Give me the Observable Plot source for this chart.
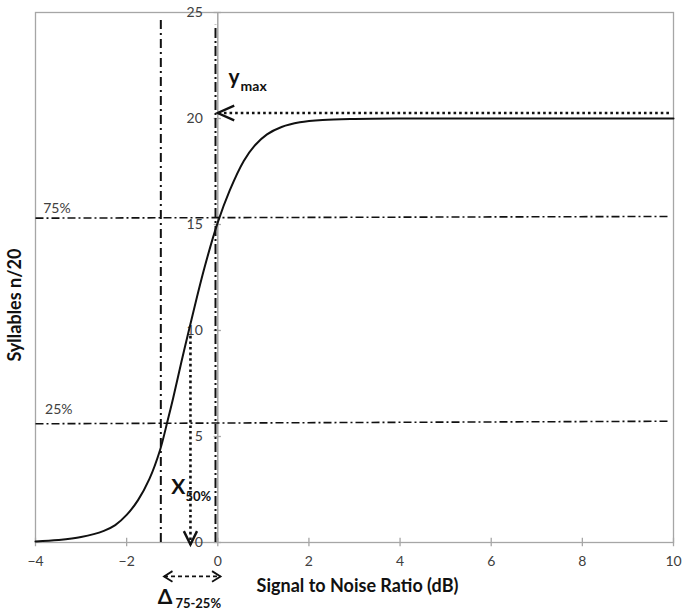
<!DOCTYPE html>
<html>
<head>
<meta charset="utf-8">
<script src="https://cdn.jsdelivr.net/npm/d3@7"></script>
<script src="https://cdn.jsdelivr.net/npm/@observablehq/plot@0.6"></script>
<style>
  html, body { margin: 0; padding: 0; background: #fff; }
  #chart svg { display: block; }
</style>
</head>
<body>
<div id="chart"></div>
<script>
// ---- data ----
const curveX = [-4, -3.5, -3, -2.5, -2.25, -2, -1.75, -1.5, -1.27, -1.1, -0.98, -0.8, -0.64, -0.3, 0, 0.26, 0.57, 0.8, 1.08, 1.4, 1.8, 2.3, 3, 4, 6, 8, 10];
const curveY = [0.05, 0.12, 0.26, 0.55, 0.82, 1.3, 2.0, 3.0, 4.34, 5.75, 6.8, 8.5, 9.95, 12.9, 15.1, 16.6, 18.0, 18.7, 19.25, 19.6, 19.82, 19.93, 19.98, 20, 20, 20, 20];
const xTicks = [-4, -2, 0, 2, 4, 6, 8, 10];
const yTicks = [0, 5, 10, 15, 20, 25];
const xTitle = "Signal to Noise Ratio (dB)";
const yTitle = "Syllables n/20";

// reference lines (data units)
const pctLines = [
  {label: "75%", x1: -4, x2: 9.9, y1: 15.3, y2: 15.38, labelX: -3.83, labelY: 15.52},
  {label: "25%", x1: -4, x2: 9.9, y1: 5.6, y2: 5.72, labelX: -3.79, labelY: 6.04}
];
const vLineLeft = {x: -1.25, y1: 0, y2: 24.8};
const vLineRight = {x: -0.05, y1: 0, y2: 24.4};
const ymaxArrow = {x1: 9.9, x2: 0, y: 20.26};
const x50Arrow = {x: -0.6, y1: 9.75, y2: -0.1};
const deltaArrow = {x1: -1.18, x2: 0.06, y: -1.6};

const curve = curveX.map((x, i) => ({x, y: curveY[i]}));
const gray = "#a6a6a6";
const ink = "#111";
const lab = "#404040";

// open chevron arrowhead symbol: tip at the point, pointing along (ux, uy)
function chevron(ux, uy, halfAngle) {
  const a = halfAngle * Math.PI / 180;
  return {
    draw(context, size) {
      const L = Math.sqrt(size / Math.PI);
      const c = Math.cos(a), s = Math.sin(a);
      const w1x = -L * (ux * c - uy * s), w1y = -L * (ux * s + uy * c);
      const w2x = -L * (ux * c + uy * s), w2y = -L * (-ux * s + uy * c);
      context.moveTo(w1x, w1y);
      context.lineTo(0, 0);
      context.lineTo(w2x, w2y);
    }
  };
}

const plot = Plot.plot({
  width: 684,
  height: 612,
  marginLeft: 35,
  marginRight: 11,
  marginTop: 12,
  marginBottom: 70,
  style: {fontFamily: "Lato, 'Open Sans', sans-serif", background: "#fff"},
  x: {domain: [-4, 10], axis: null},
  y: {domain: [0, 25], axis: null},
  marks: [
    Plot.frame({stroke: gray, strokeWidth: 1.3}),
    // y axis drawn at x = 0
    Plot.ruleX([0], {stroke: gray, strokeWidth: 1.5}),
    Plot.ruleY(yTicks, {y: d => d, x1: -0.08, x2: 0.08, stroke: gray, strokeWidth: 1.3}),
    Plot.text(yTicks, {x: 0, y: d => d, text: d => String(d), dx: -15, textAnchor: "end", fill: lab, fontSize: 14}),
    // x axis
    Plot.ruleX(xTicks, {x: d => d, y1: -0.2, y2: 0.2, stroke: gray, strokeWidth: 1.3}),
    Plot.axisX({ticks: xTicks, tickSize: 0, tickPadding: 14, fontSize: 14, color: lab, label: null}),
    // percentage dash-dot lines
    Plot.link(pctLines, {x1: "x1", x2: "x2", y1: "y1", y2: "y2", stroke: ink, strokeWidth: 1.6, strokeDasharray: "8,3,2,3"}),
    Plot.text(pctLines, {x: "labelX", y: "labelY", text: "label", textAnchor: "start", lineAnchor: "bottom", fill: lab, fontSize: 14}),
    // vertical dash-dot lines
    Plot.ruleX([vLineLeft], {x: "x", y1: "y1", y2: "y2", stroke: ink, strokeWidth: 2, strokeDasharray: "9,4,2,4"}),
    Plot.ruleX([vLineRight], {x: "x", y1: "y1", y2: "y2", stroke: ink, strokeWidth: 2, strokeDasharray: "10,3,2,3"}),
    // curve
    Plot.line(curve, {x: "x", y: "y", curve: "catmull-rom", stroke: ink, strokeWidth: 2}),
    // ymax dotted arrow
    Plot.link([ymaxArrow], {x1: "x1", x2: "x2", y1: "y", y2: "y", stroke: ink, strokeWidth: 2.6, strokeDasharray: "2.6,3"}),
    Plot.dot([ymaxArrow], {x: "x2", y: "y", r: 18, symbol: chevron(-1, 0, 24), fill: "none", stroke: ink, strokeWidth: 2.4}),
    // x50 dotted down arrow
    Plot.link([x50Arrow], {x1: "x", x2: "x", y1: "y1", y2: "y2", stroke: ink, strokeWidth: 2.6, strokeDasharray: "2.6,3"}),
    Plot.dot([x50Arrow], {x: "x", y: "y2", r: 15, symbol: chevron(0, 1, 26), fill: "none", stroke: ink, strokeWidth: 2.4}),
    // delta dashed double arrow
    Plot.link([deltaArrow], {x1: "x1", x2: "x2", y1: "y", y2: "y", stroke: ink, strokeWidth: 1.8, strokeDasharray: "4,3"}),
    Plot.dot([deltaArrow], {x: "x1", y: "y", r: 10, symbol: chevron(-1, 0, 32), fill: "none", stroke: ink, strokeWidth: 1.8}),
    Plot.dot([deltaArrow], {x: "x2", y: "y", r: 10, symbol: chevron(1, 0, 32), fill: "none", stroke: ink, strokeWidth: 1.8}),
    // annotation labels
    Plot.text(["y"], {x: 0.235, y: 21.65, text: d => d, textAnchor: "start", lineAnchor: "bottom", fontSize: 21, fontWeight: "bold", fill: ink}),
    Plot.text(["max"], {x: 0.5, y: 21.32, text: d => d, textAnchor: "start", lineAnchor: "bottom", fontSize: 14, fontWeight: "bold", fill: ink}),
    Plot.text(["X"], {x: -1.02, y: 2.31, text: d => d, textAnchor: "start", lineAnchor: "bottom", fontSize: 21, fontWeight: "bold", fill: ink}),
    Plot.text(["50%"], {x: -0.71, y: 1.98, text: d => d, textAnchor: "start", lineAnchor: "bottom", fontSize: 13, fontWeight: "bold", fill: ink}),
    Plot.text(["Δ"], {x: -1.32, y: -2.9, text: d => d, textAnchor: "start", lineAnchor: "bottom", fontSize: 21, fontWeight: "bold", fill: ink}),
    Plot.text(["75-25%"], {x: -0.93, y: -3.07, text: d => d, textAnchor: "start", lineAnchor: "bottom", fontSize: 13, fontWeight: "bold", fill: ink}),
    // axis titles
    Plot.text([xTitle], {frameAnchor: "bottom", text: d => d, dx: 3, dy: 49, fontSize: 18, fontWeight: "bold", fill: ink}),
    Plot.text([yTitle], {x: -4, y: 11.2, text: d => d, rotate: -90, dx: -20, fontSize: 18, fontWeight: "bold", fill: ink})
  ]
});
document.getElementById("chart").append(plot);
</script>
</body>
</html>
